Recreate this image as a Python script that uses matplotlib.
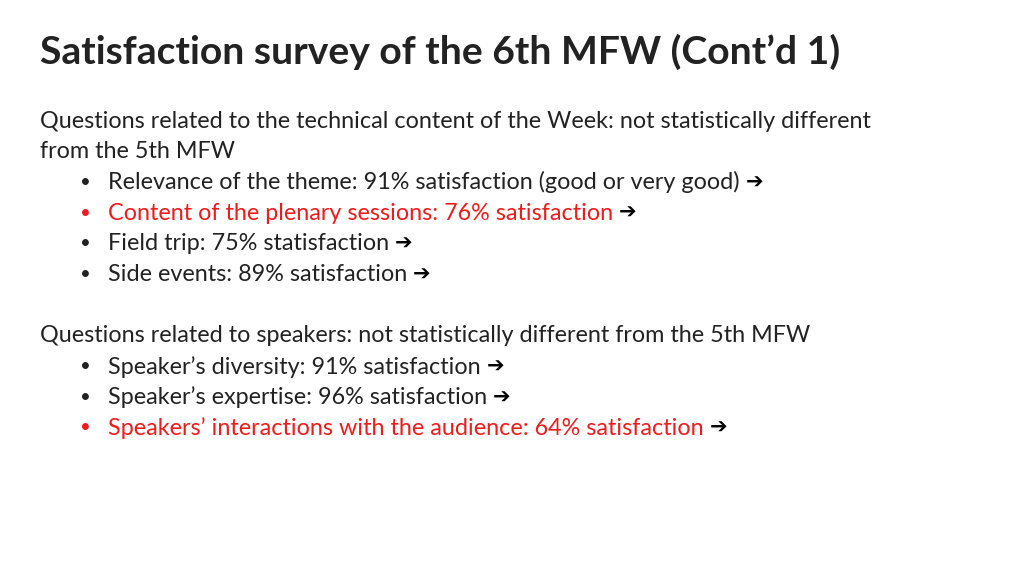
import matplotlib.pyplot as plt

title = "Satisfaction survey of the 6th MFW (Cont\u2019d 1)"
intro1 = ["Questions related to the technical content of the Week: not statistically different",
          "from the 5th MFW"]
items1 = ["Relevance of the theme: 91% satisfaction (good or very good)",
          "Content of the plenary sessions: 76% satisfaction",
          "Field trip: 75% statisfaction",
          "Side events: 89% satisfaction"]
red1 = [False, True, False, False]
intro2 = ["Questions related to speakers: not statistically different from the 5th MFW"]
items2 = ["Speaker\u2019s diversity: 91% satisfaction",
          "Speaker\u2019s expertise: 96% satisfaction",
          "Speakers\u2019 interactions with the audience: 64% satisfaction"]
red2 = [False, False, True]

W, H = 1024, 576
fig = plt.figure(figsize=(W / 100, H / 100), dpi=100)
fam = ["Lato", "DejaVu Sans"]
r = fig.canvas.get_renderer()

def put(x, y, s, **kw):
    return fig.text(x / W, 1 - y / H, s, va="center", ha="left", family=fam, **kw)

put(40, 52, title, fontsize=28.2, weight="bold", color="#222222")

fs = 16.8
y = 121
step = 30.7
for block, items, reds in [(intro1, items1, red1), (intro2, items2, red2)]:
    for line in block:
        put(40, y, line, fontsize=fs, color="#222222")
        y += step
    for s, rd in zip(items, reds):
        c = "#ee1c1c" if rd else "#222222"
        put(80, y, "\u2022", fontsize=fs * 0.8, color=c)
        t = put(108, y, s + " ", fontsize=fs, color=c)
        bb = t.get_window_extent(renderer=r)
        put(bb.x1, y, "\u2794", fontsize=fs * 0.9, color="black", weight="bold")
        y += step
    y += step

fig.savefig("out.png", dpi=100, facecolor="white")
